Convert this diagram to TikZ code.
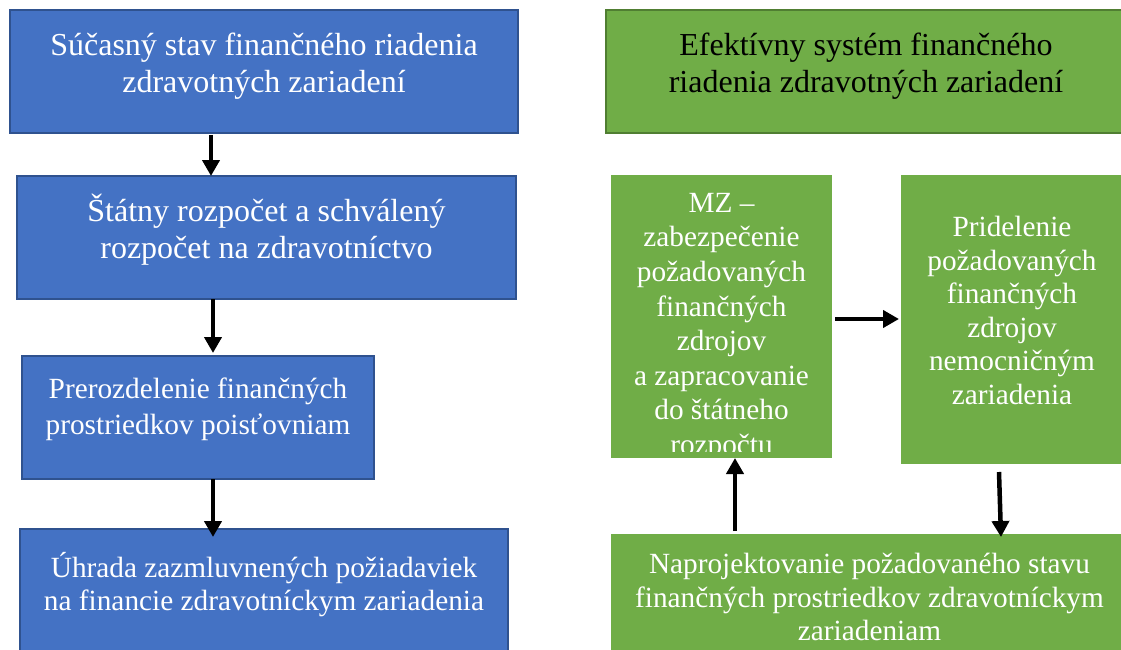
\documentclass[tikz,border=0pt]{standalone}
\usepackage{fontspec}
\setmainfont{Liberation Serif}
\usetikzlibrary{arrows.meta,calc}
\definecolor{boxblue}{HTML}{4472C4}
\definecolor{boxblueedge}{HTML}{2F528F}
\definecolor{boxgreen}{HTML}{70AD47}
\definecolor{boxgreenedge}{HTML}{507E32}
\begin{document}
\begin{tikzpicture}[x=1pt,y=-1pt,
  box/.style={anchor=north west, inner sep=0pt, outer sep=0pt},
  bluebox/.style={box, fill=boxblue, draw=boxblueedge, line width=2pt},
  greenbox/.style={box, fill=boxgreen},
  headbox/.style={box, fill=boxgreen, draw=boxgreenedge, line width=2.5pt},
  bigtext/.style={anchor=north, inner sep=0pt, align=center, text=white,
    font=\fontsize{32}{36.5}\selectfont, execute at begin node=\rule{0pt}{32pt}},
  smalltext/.style={anchor=north, inner sep=0pt, align=center, text=white,
    font=\fontsize{29.3}{33.6}\selectfont, execute at begin node=\rule{0pt}{29pt}},
  arr/.style={line width=4.5pt, -{Triangle[length=16pt,width=17pt]}}
]
\useasboundingbox (0,0) rectangle (1121,650);
\clip (0,0) rectangle (1121,650);

% current state (left column)
\node[bluebox, minimum width=508pt, minimum height=123pt] (b1) at (10,10) {};
\node[bluebox, minimum width=499pt, minimum height=123pt] (b2) at (17,176) {};
\node[bluebox, minimum width=352pt, minimum height=123pt] (b3) at (22,356) {};
\node[bluebox, minimum width=488pt, minimum height=130pt] (b4) at (20,529) {};

\node[bigtext] (t1) at ($(b1.north)+(0,23)$) {Súčasný stav finančného riadenia\\zdravotných zariadení};
\node[bigtext] (t2) at ($(b2.north)+(0,18)$) {Štátny rozpočet a schválený\\rozpočet na zdravotníctvo};
\node[smalltext, font=\fontsize{29.3}{36}\selectfont] (t3) at ($(b3.north)+(0,22)$) {Prerozdelenie finančných\\prostriedkov poisťovniam};
\node[smalltext] (t4) at ($(b4.north)+(0,23)$) {Úhrada zazmluvnených požiadaviek\\na financie zdravotníckym zariadenia};

% efficient system (right column)
\node[headbox, minimum width=520pt, minimum height=123pt] (b5) at (606,10) {};
\node[greenbox, minimum width=221pt, minimum height=283pt] (b6) at (611,175) {};
\node[greenbox, minimum width=222pt, minimum height=289pt] (b7) at (901,175) {};
\node[greenbox, minimum width=517pt, minimum height=126pt] (b8) at (611,534) {};

\node[bigtext, text=black] (t5) at ($(b5.north)+(0,23)$) {Efektívny systém finančného\\riadenia zdravotných zariadení};
\begin{scope}
  \clip (b6.north west) rectangle ($(b6.south east)+(0,-7)$);
  \node[smalltext, font=\fontsize{29.3}{34.6}\selectfont] (t6) at ($(b6.north)+(0,18)$) {MZ –\\zabezpečenie\\požadovaných\\finančných\\zdrojov\\a zapracovanie\\do štátneho\\rozpočtu};
\end{scope}
\node[smalltext] (t7) at ($(b7.north)+(0,41)$) {Pridelenie\\požadovaných\\finančných\\zdrojov\\nemocničným\\zariadenia};
\node[smalltext] (t8) at ($(b8.north)+(0,19)$) {Naprojektovanie požadovaného stavu\\finančných prostriedkov zdravotníckym\\zariadeniam};

% connectors
\draw[arr] ($(b1.south west)+(201,2)$) -- ($(b2.north west)+(194,0)$);
\draw[arr] ($(b2.south west)+(196,0)$) -- ($(b3.north west)+(191,-3)$);
\draw[arr] ($(b3.south west)+(191,0)$) -- ($(b4.north west)+(193,8)$);
\draw[arr] ($(b6.north east)+(3,144)$) -- ($(b7.north west)+(-2,144)$);
\draw[arr] ($(b8.north west)+(124,-3)$) -- ($(b6.south west)+(124,0)$);
\draw[arr] ($(b7.south west)+(98,8)$) -- ($(b8.north west)+(390,3)$);
\end{tikzpicture}
\end{document}
